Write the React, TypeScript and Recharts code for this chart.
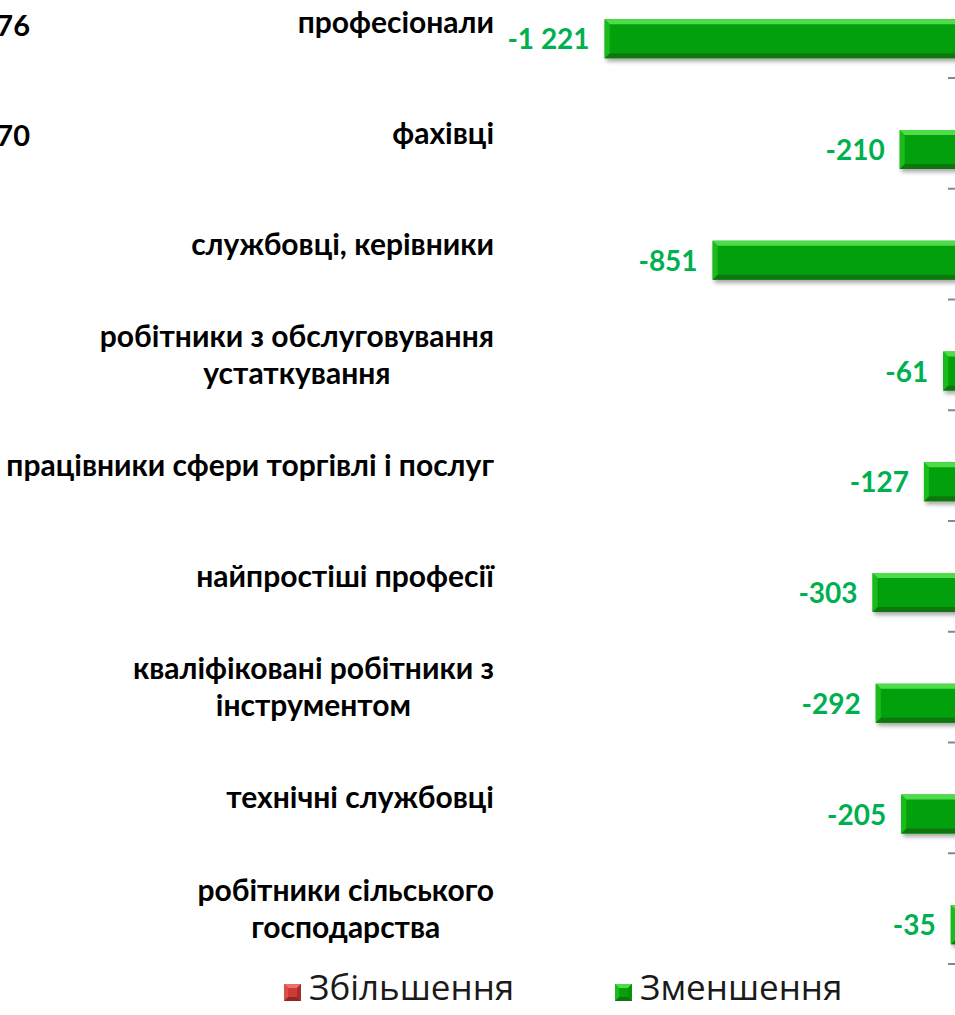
import React from 'react';
import { BarChart, Bar, XAxis, YAxis, Legend, LabelList } from 'recharts';

// categories top -> bottom, '\n' marks a line break in the label
const categories = [
  'професіонали',
  'фахівці',
  'службовці, керівники',
  'робітники з обслуговування\nустаткування',
  'працівники сфери торгівлі і послуг',
  'найпростіші професії',
  'кваліфіковані робітники з\nінструментом',
  'технічні службовці',
  'робітники сільського\nгосподарства',
];
// only the tail of the increase labels is visible at the left edge
const increase: (number | null)[] = [76, 70, null, null, null, null, null, null, null];
const decrease = [-1221, -210, -851, -61, -127, -303, -292, -205, -35];
const seriesNames = ['Збільшення', 'Зменшення'];
const xDomain = [-1600, 0];

const data = categories.map((name, i) => ({ name, inc: increase[i], dec: decrease[i] }));

const FONT = 'Lato, "Open Sans", sans-serif';
const LEGEND_FONT = '"Open Sans", "Noto Sans", sans-serif';
const AXIS_W = 494;
const PLOT_W = 467;
const CHART_W = AXIS_W + PLOT_W + 20;
const CHART_H = 1100;
const CHART_TOP = -60;
const MARGIN = { top: 27.25, right: 20, bottom: 76, left: 0 };
const ZERO_X = AXIS_W + PLOT_W;
const BAND = (CHART_H - MARGIN.top - MARGIN.bottom) / categories.length;
const CAT_SIZE = 30;

const green = { body: '#06a10b', top: '#4fdc48', bottom: '#0a760b', left: '#1bbb1d', right: '#0b8f0d' };
const red = { body: '#cc3b35', top: '#ea7068', bottom: '#962420', left: '#dc4f48', right: '#a92d28' };

let ctx: CanvasRenderingContext2D | null = null;
function textWidth(s: string, font: string) {
  if (!ctx) ctx = document.createElement('canvas').getContext('2d');
  ctx!.font = font;
  return ctx!.measureText(s).width;
}

function fmt(v: number) {
  const s = Math.abs(v).toString().replace(/\B(?=(\d{3})+(?!\d))/g, ' ');
  return v < 0 ? '-' + s : s;
}

function bevel(pal: typeof green) {
  return (props: any) => {
    let { x, y, width, height } = props;
    if (width == null || !height) return <g />;
    if (width < 0) { x += width; width = -width; }
    const b = Math.min(5, width / 2, height / 2);
    const r = x + width, bt = y + height;
    return (
      <g filter="url(#barShadow)">
        <rect x={x} y={y} width={width} height={height} fill={pal.body} />
        <polygon points={`${x},${y} ${r},${y} ${r - b},${y + b} ${x + b},${y + b}`} fill={pal.top} />
        <polygon points={`${x},${bt} ${r},${bt} ${r - b},${bt - b} ${x + b},${bt - b}`} fill={pal.bottom} />
        <polygon points={`${x},${y} ${x + b},${y + b} ${x + b},${bt - b} ${x},${bt}`} fill={pal.left} />
        <polygon points={`${r},${y} ${r - b},${y + b} ${r - b},${bt - b} ${r},${bt}`} fill={pal.right} />
      </g>
    );
  };
}

function CategoryTick(props: any) {
  const { x, y, payload, index } = props;
  const lines = String(payload.value).split('\n');
  const font = `bold ${CAT_SIZE}px ${FONT}`;
  const maxW = Math.max(...lines.map((l) => textWidth(l, font)));
  const lh = 37;
  const first = y + 10.5 - ((lines.length - 1) * lh) / 2;
  const inc = increase[index];
  const edge = y + BAND / 2;
  return (
    <g>
      {lines.map((l, i) => (
        <text key={i} x={x - maxW / 2} y={first + i * lh} textAnchor="middle"
          fontFamily={FONT} fontWeight="bold" fontSize={CAT_SIZE} fill="#000">{l}</text>
      ))}
      {inc != null && (
        <text x={30} y={y + 13} textAnchor="end" fontFamily={FONT} fontWeight="bold" fontSize={29} fill="#000">
          {inc}
        </text>
      )}
      <line x1={ZERO_X - 13} x2={ZERO_X} y1={edge} y2={edge} stroke="#878787" strokeWidth={2} />
    </g>
  );
}

function ValueLabel(props: any) {
  let { x, y, width, height, value } = props;
  if (value == null) return null;
  if (width < 0) { x += width; width = -width; }
  return (
    <text x={x - 15} y={y + height / 2 + 10.5} textAnchor="end" fontFamily={FONT} fontWeight="bold"
      fontSize={28} fill="#00b050">{fmt(value)}</text>
  );
}

function Swatch({ pal }: { pal: typeof green }) {
  return (
    <svg width={17} height={17} style={{ display: 'block' }}>
      <rect x={0} y={0} width={17} height={17} fill={pal.body} />
      <polygon points="0,0 17,0 13,4 4,4" fill={pal.top} />
      <polygon points="0,17 17,17 13,13 4,13" fill={pal.bottom} />
      <polygon points="0,0 4,4 4,13 0,17" fill={pal.left} />
      <polygon points="17,0 13,4 13,13 17,17" fill={pal.right} />
    </svg>
  );
}

function LegendContent(props: any) {
  const items = props.payload || [];
  return (
    <div style={{ display: 'flex', paddingLeft: 284, fontFamily: LEGEND_FONT, fontSize: 35, color: '#1a1a1a' }}>
      {items.map((it: any, i: number) => (
        <div key={i} style={{ display: 'flex', alignItems: 'center', width: 331, gap: 8 }}>
          <div style={{ marginTop: 10 }}>
            <Swatch pal={it.value === seriesNames[0] ? red : green} />
          </div>
          <span style={{ lineHeight: '40px', whiteSpace: 'nowrap' }}>{it.value}</span>
        </div>
      ))}
    </div>
  );
}

export default function App() {
  return (
    <div style={{ position: 'fixed', left: 0, top: 0, width: 955, height: 1015, overflow: 'hidden', background: '#fff' }}>
      <div style={{ position: 'absolute', left: 0, top: CHART_TOP }}>
        <BarChart layout="vertical" width={CHART_W} height={CHART_H} data={data} margin={MARGIN} barGap={-7}>
          <defs>
            <filter id="barShadow" x="-5%" y="-20%" width="115%" height="160%">
              <feDropShadow dx={2} dy={3} stdDeviation={2} floodColor="#000" floodOpacity={0.35} />
            </filter>
          </defs>
          <XAxis type="number" domain={xDomain} hide allowDataOverflow />
          <YAxis type="category" dataKey="name" width={AXIS_W} axisLine={false} tickLine={false}
            tickSize={0} tickMargin={0} interval={0} tick={<CategoryTick />} />
          <Legend verticalAlign="middle" align="center" layout="horizontal"
            wrapperStyle={{ top: 967 - CHART_TOP, left: 0, width: CHART_W, height: 40 }}
            content={<LegendContent />} />
          <Bar dataKey="inc" name={seriesNames[0]} fill={red.body} barSize={39}
            isAnimationActive={false} shape={bevel(red)} />
          <Bar dataKey="dec" name={seriesNames[1]} fill={green.body} barSize={39}
            isAnimationActive={false} shape={bevel(green)}>
            <LabelList dataKey="dec" content={<ValueLabel />} />
          </Bar>
        </BarChart>
      </div>
    </div>
  );
}
